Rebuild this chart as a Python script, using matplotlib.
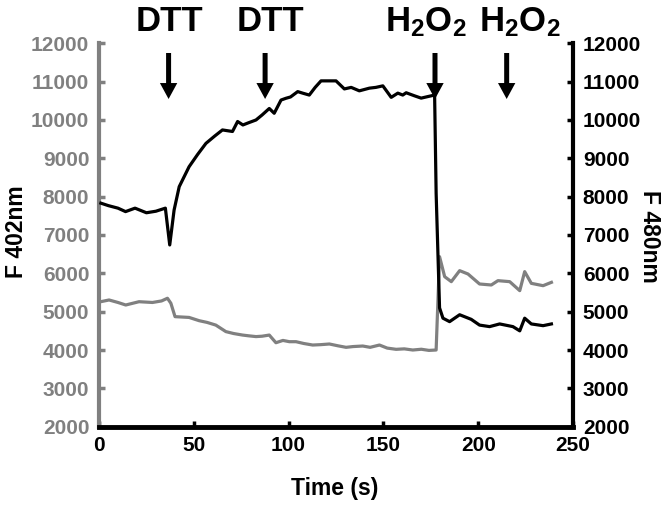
import matplotlib
matplotlib.use("Agg")
import matplotlib.pyplot as plt

plt.rcParams['font.family'] = ['Liberation Sans', 'DejaVu Sans']
plt.rcParams['font.weight'] = 'bold'
plt.rcParams['mathtext.fontset'] = 'custom'
plt.rcParams['mathtext.rm'] = 'Liberation Sans:bold'
plt.rcParams['mathtext.bf'] = 'Liberation Sans:bold'
plt.rcParams['mathtext.default'] = 'bf'

GRAY = '#808080'

# F 402nm (gray, left axis)
t402 = [0.9, 5.3, 10, 14.1, 21.1, 28.2, 33, 36.1, 37.9, 40.1, 47.5, 52.8, 57, 61.6,
        66.9, 71, 75.7, 79, 82.8, 86, 89.8, 93.3, 97, 100.4, 103.9, 108, 112.7, 117,
        121.5, 126, 130.3, 134, 139.1, 143, 147.9, 152, 156.7, 161, 165.5, 170, 174,
        177.8, 179.6, 182.3, 185.8, 190.2, 194.6, 200.7, 206.9, 210.4, 216.6, 221.9,
        224.5, 228, 234.2, 238.6]
f402 = [5260, 5305, 5240, 5174, 5260, 5240, 5280, 5350, 5220, 4870, 4850, 4765, 4720, 4650,
        4480, 4430, 4390, 4370, 4350, 4360, 4390, 4190, 4250, 4217, 4217, 4170, 4130, 4140,
        4157, 4110, 4070, 4090, 4104, 4070, 4130, 4050, 4018, 4030, 4000, 4020, 3990,
        4000, 6435, 5913, 5783, 6070, 5983, 5722, 5696, 5809, 5783, 5548,
        6044, 5739, 5678, 5765]

# F 480nm (black, right axis)
t480 = [1, 5, 10, 14, 19, 25, 30, 35, 37.3, 39.6, 42.3, 47.5, 52, 56.4, 61, 65.1, 70.4,
        73.1, 75.9, 79, 82.8, 86, 89.8, 92.4, 96, 98.6, 101, 104.8, 107.4, 110.9, 114,
        117.1, 121, 125, 129.4, 133, 137.3, 142.6, 146, 149.7, 154.1, 157.6, 160.2, 162,
        166.4, 169.9, 173.4, 177, 177.8, 179.6, 181.4, 184.9, 190.2, 196.3, 200.7, 206,
        211.3, 218.3, 221.9, 224.5, 228, 234.2, 238.6]
f480 = [7830, 7765, 7700, 7610, 7700, 7580, 7620, 7700, 6740, 7650, 8260, 8780, 9100, 9390,
        9580, 9740, 9700, 9960, 9870, 9930, 10000, 10130, 10300, 10175, 10520, 10566, 10600,
        10740, 10700, 10650, 10850, 11020, 11020, 11020, 10810, 10850, 10760, 10830, 10850,
        10890, 10590, 10700, 10650, 10710, 10630, 10570, 10610, 10650, 8090, 5100, 4830,
        4740, 4920, 4800, 4650, 4610, 4680, 4610, 4500, 4830, 4680, 4635, 4680]

# additions
arrow_t = [36.7, 87.6, 177.2, 215.0]
label_t = [37.4, 90.2, 172.2, 221.8]
labels = ['DTT', 'DTT', r'H$_2$O$_2$', r'H$_2$O$_2$']

fig = plt.figure(figsize=(6.64, 5.07), dpi=100)
ax = fig.add_axes([0.1491, 0.1584, 0.7139, 0.7562])
ax2 = ax.twinx()

ax.plot(t402, f402, color=GRAY, lw=2.3)
ax2.plot(t480, f480, color='black', lw=2.3)

for a in (ax, ax2):
    a.set_xlim(0, 250)
    a.set_ylim(2000, 12000)
    a.set_yticks(range(2000, 12001, 1000))
    a.spines['top'].set_visible(False)

ax.set_xticks(range(0, 251, 50))
ax.spines['right'].set_visible(False)
ax.spines['left'].set_color(GRAY)
ax.spines['left'].set_linewidth(3)
ax.spines['bottom'].set_linewidth(3.5)
ax2.spines['left'].set_visible(False)
ax2.spines['bottom'].set_visible(False)
ax2.spines['right'].set_linewidth(3)

ax.tick_params(axis='y', direction='in', length=4, width=2.5, color=GRAY,
               labelcolor=GRAY, labelsize=15, pad=7)
ax.tick_params(axis='x', direction='in', length=4, width=2.5, labelsize=15, pad=7)
ax2.tick_params(axis='y', direction='in', length=4, width=2.5, labelsize=15, pad=7)

for t in arrow_t:
    ax.annotate('', xy=(t, 0.8547), xytext=(t, 0.9747),
                xycoords=('data', 'axes fraction'), textcoords=('data', 'axes fraction'),
                arrowprops=dict(facecolor='black', edgecolor='none', width=3.6,
                                headwidth=12.5, headlength=11.5, shrink=0))
for t, s in zip(label_t, labels):
    ax.text(t, 1.032, s, transform=ax.get_xaxis_transform(), ha='center',
            va='baseline', fontsize=25, fontweight='bold', clip_on=False)

fig.text(16.5 / 664, 1 - 232 / 507, 'F 402nm', rotation=90, ha='center', va='center',
         fontsize=16.5, fontweight='bold')
fig.text(649.5 / 664, 1 - 236 / 507, 'F 480nm', rotation=270, ha='center', va='center',
         fontsize=16.5, fontweight='bold')
fig.text(335 / 664, 1 - 488 / 507, 'Time (s)', ha='center', va='center',
         fontsize=16.5, fontweight='bold')

fig.savefig('out.png', dpi=100)
